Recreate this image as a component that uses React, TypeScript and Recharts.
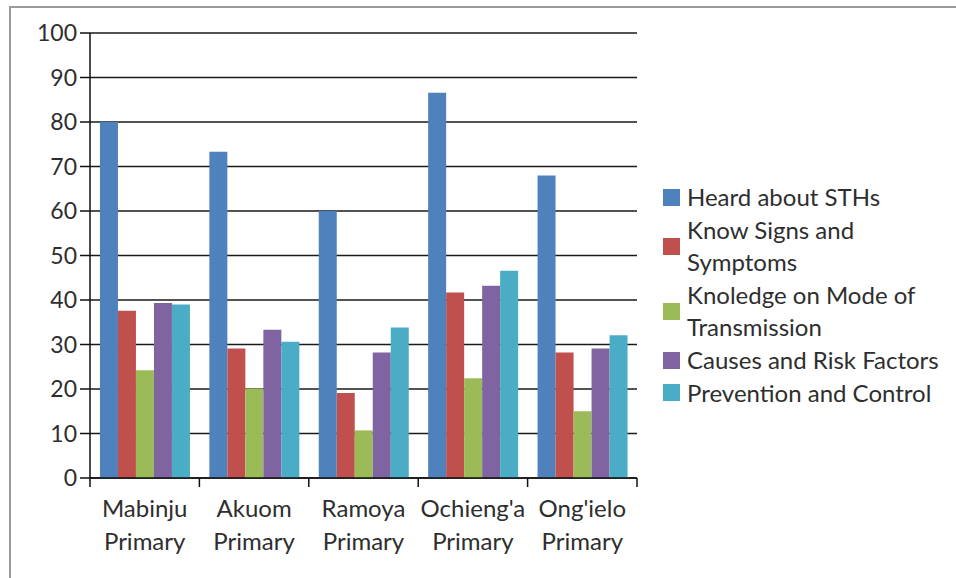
import React from "react";
import { BarChart, Bar, XAxis, YAxis, CartesianGrid, Legend } from "recharts";

// Schools surveyed
const schools = [
  "Mabinju Primary",
  "Akuom Primary",
  "Ramoya Primary",
  "Ochieng'a Primary",
  "Ong'ielo Primary",
];

// Percentage of pupils per knowledge area
const heardAboutSTHs = [80, 73.3, 60, 86.6, 68];
const knowSignsSymptoms = [37.6, 29.1, 19.1, 41.7, 28.2];
const modeOfTransmission = [24.2, 20.1, 10.7, 22.4, 15];
const causesRiskFactors = [39.3, 33.3, 28.2, 43.2, 29.1];
const preventionControl = [39, 30.6, 33.8, 46.6, 32.1];

const yTicks = [0, 10, 20, 30, 40, 50, 60, 70, 80, 90, 100];

const series = [
  { key: "heard", lines: ["Heard about STHs"], values: heardAboutSTHs, color: "#4F81BD" },
  { key: "signs", lines: ["Know Signs and", "Symptoms"], values: knowSignsSymptoms, color: "#C0504D" },
  { key: "mode", lines: ["Knoledge on Mode of", "Transmission"], values: modeOfTransmission, color: "#9BBB59" },
  { key: "causes", lines: ["Causes and Risk Factors"], values: causesRiskFactors, color: "#8064A2" },
  { key: "prevention", lines: ["Prevention and Control"], values: preventionControl, color: "#4BACC6" },
];

const data = schools.map((name, i) => {
  const row: Record<string, string | number> = { name };
  series.forEach((s) => {
    row[s.key] = s.values[i];
  });
  return row;
});

const FONT = "Lato, 'Open Sans', sans-serif";
const TEXT = "#2e2e2e";

const SchoolTick = (props: any) => {
  const { x, y, payload, index, visibleTicksCount } = props;
  const half = payload.offset ?? 0;
  const [first, ...rest] = String(payload.value).split(" ");
  const isLast = index === visibleTicksCount - 1;
  return (
    <g>
      <line x1={x - half} y1={y} x2={x - half} y2={y + 9} stroke="#111" strokeWidth={1.5} />
      {isLast && (
        <line x1={x + half} y1={y} x2={x + half} y2={y + 9} stroke="#111" strokeWidth={1.5} />
      )}
      <text x={x} y={y + 39} textAnchor="middle" fill={TEXT} fontSize={24} fontFamily={FONT}>
        {first}
      </text>
      <text x={x} y={y + 72} textAnchor="middle" fill={TEXT} fontSize={24} fontFamily={FONT}>
        {rest.join(" ")}
      </text>
    </g>
  );
};

const LegendBox = () => (
  <div style={{ fontFamily: FONT, fontSize: 24, color: TEXT, lineHeight: "32.6px" }}>
    {series.map((s) => (
      <div key={s.key} style={{ display: "flex", alignItems: "center" }}>
        <span
          style={{
            width: 17,
            height: 17,
            background: s.color,
            marginRight: 7,
            flex: "0 0 auto",
          }}
        />
        <div style={{ whiteSpace: "nowrap" }}>
          {s.lines.map((l) => (
            <div key={l}>{l}</div>
          ))}
        </div>
      </div>
    ))}
  </div>
);

export default function App() {
  return (
    <div style={{ position: "absolute", left: 0, top: 0, width: 956, height: 578, background: "#fff", overflow: "hidden" }}>
      <div
        style={{
          position: "absolute",
          left: 9,
          top: 6,
          width: 1000,
          height: 700,
          borderTop: "2px solid #9a9a9a",
          borderLeft: "2px solid #9a9a9a",
        }}
      />
      <div style={{ position: "absolute", left: 0, top: 0 }}>
        <BarChart
          width={956}
          height={578}
          data={data}
          margin={{ top: 33, right: 29, left: 10, bottom: 0 }}
          barCategoryGap="9.1%"
          barGap={0}
        >
          <CartesianGrid horizontal vertical={false} stroke="#1a1a1a" strokeWidth={1.4} />
          <XAxis
            dataKey="name"
            height={100}
            axisLine={{ stroke: "#111", strokeWidth: 1.5 }}
            tickLine={false}
            tickSize={0}
            tickMargin={0}
            interval={0}
            tick={<SchoolTick />}
          />
          <YAxis
            width={80}
            domain={[0, 100]}
            ticks={yTicks}
            interval={0}
            axisLine={{ stroke: "#111", strokeWidth: 1.5 }}
            tickLine={{ stroke: "#111", strokeWidth: 1.5 }}
            tickSize={10}
            tickMargin={3}
            tick={{ fill: TEXT, fontSize: 23, fontFamily: FONT }}
          />
          <YAxis
            yAxisId="frame"
            orientation="right"
            width={0}
            tick={false}
            tickLine={false}
            axisLine={{ stroke: "#8c8c8c", strokeWidth: 1.2 }}
          />
          {series.map((s) => (
            <Bar
              key={s.key}
              dataKey={s.key}
              name={s.lines.join(" ")}
              fill={s.color}
              isAnimationActive={false}
            />
          ))}
          <Legend
            layout="vertical"
            align="right"
            verticalAlign="top"
            content={<LegendBox />}
            wrapperStyle={{ left: 663, top: 181, width: 290 }}
          />
        </BarChart>
      </div>
    </div>
  );
}
